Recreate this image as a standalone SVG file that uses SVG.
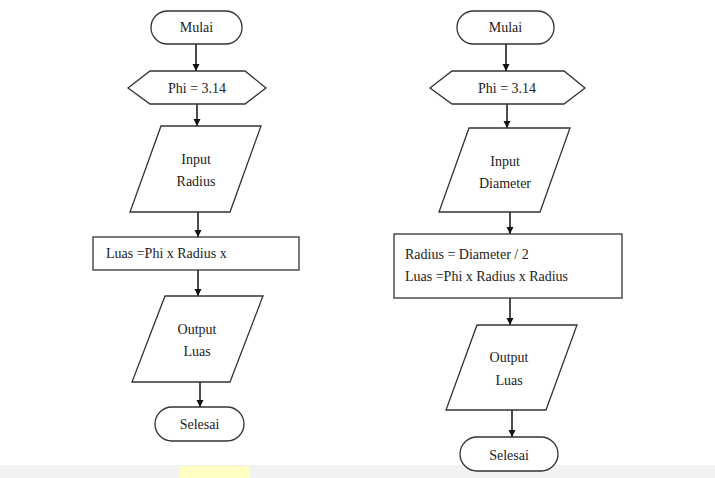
<svg xmlns="http://www.w3.org/2000/svg" width="715" height="478" viewBox="0 0 715 478">
<style>
.s{fill:#fff;stroke:#333;stroke-width:1.3}
.t{font-family:"Liberation Serif",serif;font-size:14px;fill:#222}
.c{text-anchor:middle}
.l{stroke:#111;stroke-width:1.5;marker-end:url(#a)}
</style>
<defs><marker id="a" viewBox="0 0 10 10" refX="10" refY="5" markerWidth="7" markerHeight="9" markerUnits="userSpaceOnUse" orient="auto"><path d="M0,0L10,5L0,10z" fill="#111"/></marker></defs>
<rect width="715" height="478" fill="#fff"/>
<rect y="465" width="715" height="13" fill="#f2f2f2"/>
<rect x="180" y="466" width="70" height="12" fill="#ffffc4"/>
<g id="connectors">
<line class="l" x1="196" y1="44" x2="196" y2="71"/>
<line class="l" x1="197" y1="104" x2="197" y2="126"/>
<line class="l" x1="198" y1="212" x2="198" y2="237"/>
<line class="l" x1="198" y1="270" x2="198" y2="296"/>
<line class="l" x1="200" y1="382" x2="200" y2="407"/>
<line class="l" x1="506" y1="44" x2="506" y2="71"/>
<line class="l" x1="507" y1="104" x2="507" y2="128"/>
<line class="l" x1="510" y1="212" x2="510" y2="234"/>
<line class="l" x1="510" y1="298" x2="510" y2="325"/>
<line class="l" x1="512" y1="410" x2="512" y2="437"/>
</g>
<g id="l1"><rect class="s" x="151" y="11" width="91" height="33" rx="16.5"/><text class="t c" x="196.5" y="32">Mulai</text></g>
<g id="l2"><path class="s" d="M128,88L150,71H245L266,88L245,104H150Z"/><text class="t c" x="197" y="93">Phi = 3.14</text></g>
<g id="l3"><path class="s" d="M161,126H261L230,212H130Z"/><text class="t c" x="196" y="164">Input</text><text class="t c" x="196" y="186">Radius</text></g>
<g id="l4"><rect class="s" x="93" y="237" width="206" height="33"/><text class="t" x="106" y="258">Luas =Phi x Radius x</text></g>
<g id="l5"><path class="s" d="M165,296H263L230,382H132Z"/><text class="t c" x="197" y="334">Output</text><text class="t c" x="197" y="356">Luas</text></g>
<g id="l6"><rect class="s" x="155" y="407" width="89" height="34" rx="17"/><text class="t c" x="199.5" y="429">Selesai</text></g>
<g id="r1"><rect class="s" x="457" y="11" width="97" height="33" rx="16.5"/><text class="t c" x="505.5" y="32">Mulai</text></g>
<g id="r2"><path class="s" d="M430,88L452,71H564L585,88L564,104H452Z"/><text class="t c" x="507" y="93">Phi = 3.14</text></g>
<g id="r3"><path class="s" d="M469,128H570L540,212H439Z"/><text class="t c" x="505" y="166">Input</text><text class="t c" x="505" y="188">Diameter</text></g>
<g id="r4"><rect class="s" x="394" y="234" width="228" height="64"/><text class="t" x="405" y="259">Radius = Diameter / 2</text><text class="t" x="405" y="281">Luas =Phi x Radius x Radius</text></g>
<g id="r5"><path class="s" d="M477,325H577L546,410H446Z"/><text class="t c" x="509" y="362">Output</text><text class="t c" x="509" y="385">Luas</text></g>
<g id="r6"><rect class="s" x="460" y="437" width="98" height="34" rx="17"/><text class="t c" x="509" y="460">Selesai</text></g>
</svg>
